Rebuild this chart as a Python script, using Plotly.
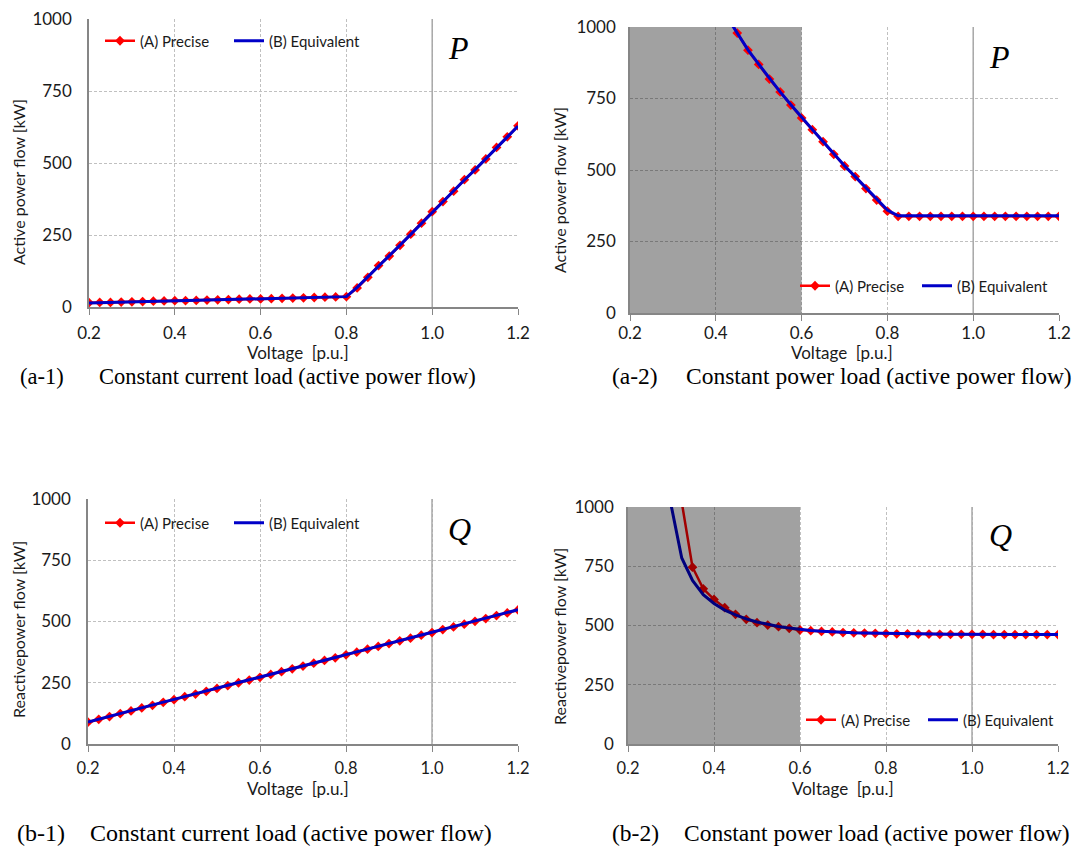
import plotly.graph_objects as go

W, H = 1073, 847

# ---------------- data ----------------
voltage = [0.2, 0.225, 0.25, 0.275, 0.3, 0.325, 0.35, 0.375, 0.4, 0.425, 0.45, 0.475,
           0.5, 0.525, 0.55, 0.575, 0.6, 0.625, 0.65, 0.675, 0.7, 0.725, 0.75, 0.775,
           0.8, 0.825, 0.85, 0.875, 0.9, 0.925, 0.95, 0.975, 1.0, 1.025, 1.05, 1.075,
           1.1, 1.125, 1.15, 1.175, 1.2]

# (a-1) constant current load, active power
p_cc_precise = [15, 16, 16, 17, 18, 19, 20, 21, 22, 22, 23, 24, 25, 26, 27, 28, 28, 29, 30, 31,
                32, 33, 34, 35, 36, 66, 103, 144, 177, 214, 253, 291, 331, 366, 402, 442,
                476, 514, 554, 591, 629]
p_cc_equiv = [14, 15, 16, 17, 18, 19, 20, 21, 21, 22, 23, 24, 25, 26, 27, 27, 28, 29, 30, 31,
              32, 33, 34, 35, 36, 68, 104, 143, 178, 215, 252, 290, 330, 366, 403, 441,
              477, 514, 553, 590, 628]

# (a-2) constant power load, active power
p_cp_precise = [None, None, None, None, None, None, None, None, None, 1040, 979, 919,
                869, 818, 773, 727, 682, 641, 599, 555, 514, 477, 435, 395,
                356, 338, 338, 338, 338, 338, 338, 338, 338, 338, 338, 338,
                338, 338, 338, 338, 338]
p_cp_equiv = [None, None, None, None, None, None, None, None, None, 1038, 978, 920,
              870, 820, 773, 728, 683, 642, 600, 557, 515, 477, 437, 397,
              360, 340, 340, 340, 340, 340, 340, 340, 340, 340, 340, 340,
              340, 340, 340, 340, 340]

# (b-1) constant current load, reactive power
q_cc_precise = [89, 101, 112, 124, 135, 147, 158, 170, 181, 193, 204, 215, 227, 238, 250, 261,
                272, 284, 295, 307, 318, 330, 341, 352, 364, 375, 387, 398, 410, 421, 432,
                444, 455, 467, 478, 489, 501, 512, 524, 535, 547]
q_cc_equiv = [90, 102, 113, 125, 136, 148, 159, 171, 182, 194, 205, 216, 228, 239, 251, 262,
              273, 285, 296, 308, 319, 331, 342, 353, 365, 376, 388, 399, 411, 422, 433,
              445, 456, 468, 479, 490, 502, 513, 525, 536, 548]

# (b-2) constant power load, reactive power
q_cp_precise = [None, None, None, None, None, 1020, 746, 655, 610, 575, 547, 526,
                512, 502, 495, 488, 481, 478, 475, 473, 470, 469, 468, 467,
                466, 465, 465, 464, 464, 463, 463, 463, 463, 463, 462, 462,
                462, 462, 462, 462, 462]
q_cp_equiv = [None, None, None, None, 1010, 785, 690, 630, 593, 565, 545, 528,
              515, 505, 496, 489, 483, 479, 476, 473, 471, 469, 468, 467,
              466, 465, 465, 464, 464, 463, 463, 463, 463, 463, 462, 462,
              462, 462, 462, 462, 462]

x_ticks = [0.2, 0.4, 0.6, 0.8, 1.0, 1.2]
x_tick_labels = ["0.2", "0.4", "0.6", "0.8", "1.0", "1.2"]
y_ticks = [0, 250, 500, 750, 1000]
y_tick_labels = ["0", "250", "500", "750", "1000"]

series_names = ["(A) Precise", "(B) Equivalent"]
x_title = "Voltage  [p.u.]"
y_titles = ["Active power flow [kW]", "Active power flow [kW]",
            "Reactivepower flow [kW]", "Reactivepower flow [kW]"]
corner_labels = ["P", "P", "Q", "Q"]
caption_ids = ["(a-1)", "(a-2)", "(b-1)", "(b-2)"]
caption_texts = ["Constant current load (active power flow)",
                 "Constant power load (active power flow)",
                 "Constant current load (active power flow)",
                 "Constant power load (active power flow)"]

# ---------------- layout helpers ----------------
def px(x):
    return x / W


def py(y):
    return 1 - y / H


# plot boxes in pixels: (left, right, top, bottom)
boxes = [(89, 518, 19, 307), (630, 1059, 27, 313), (88, 518, 499, 744), (628, 1058, 507, 744)]

RED = "#ff0000"
BLUE = "#0000c8"
GRID = "#c0c0c0"
AXIS = "#868686"
TXT = "#1a1a1a"

fig = go.Figure()

data_pairs = [(p_cc_precise, p_cc_equiv), (p_cp_precise, p_cp_equiv),
              (q_cc_precise, q_cc_equiv), (q_cp_precise, q_cp_equiv)]

# one legend per entry so each item can sit exactly where the reference puts it
legend_pos = [((100, 41), (229, 41)), ((795, 286), (917, 286)),
              ((100, 523), (229, 523)), ((801, 720), (923, 720))]

layout = dict(
    width=W, height=H,
    margin=dict(l=0, r=0, t=0, b=0, autoexpand=False),
    paper_bgcolor="white", plot_bgcolor="white",
    showlegend=True,
)

leg_idx = 0
for i, (prec, equiv) in enumerate(data_pairs):
    sfx = "" if i == 0 else str(i + 1)
    legs = []
    for k in range(2):
        leg_idx += 1
        name = "legend" if leg_idx == 1 else "legend" + str(leg_idx)
        legs.append(name)
        lx, ly = legend_pos[i][k]
        layout[name] = dict(
            x=px(lx), y=py(ly), xanchor="left", yanchor="middle",
            orientation="h", bgcolor="rgba(0,0,0,0)", borderwidth=0,
            font=dict(family="Lato", size=15, color=TXT), itemwidth=30,
        )
    fig.add_trace(go.Scatter(
        x=voltage, y=prec, mode="lines+markers", name=series_names[0],
        line=dict(color=RED, width=2.5),
        marker=dict(symbol="diamond", size=7.5, color=RED),
        xaxis="x" + sfx, yaxis="y" + sfx, legend=legs[0], connectgaps=False))
    fig.add_trace(go.Scatter(
        x=voltage, y=equiv, mode="lines", name=series_names[1],
        line=dict(color=BLUE, width=3),
        xaxis="x" + sfx, yaxis="y" + sfx, legend=legs[1], connectgaps=False))

x_standoff = [4, -2, 2, 2]
y_standoff = [12, 9, 12, 9]

for i, (l, r, t, b) in enumerate(boxes):
    sfx = "" if i == 0 else str(i + 1)
    layout["xaxis" + sfx] = dict(
        domain=[px(l), px(r)], anchor="y" + sfx, range=[0.2, 1.2],
        tickvals=x_ticks, ticktext=x_tick_labels,
        tickfont=dict(family="Lato", size=17 if i < 2 else 16.5, color=TXT),
        ticks="outside", ticklen=6, tickcolor=AXIS, tickwidth=1.2,
        ticklabelstandoff=x_standoff[i],
        showline=True, linecolor=AXIS, linewidth=1.5,
        showgrid=True, gridcolor=GRID, gridwidth=1, griddash="3px,2px",
        zeroline=False, fixedrange=True, automargin=False,
    )
    layout["yaxis" + sfx] = dict(
        domain=[py(b), py(t)], anchor="x" + sfx, range=[0, 1000],
        tickvals=y_ticks, ticktext=y_tick_labels,
        tickfont=dict(family="Lato", size=17, color=TXT),
        ticks="", ticklabelstandoff=y_standoff[i],
        showline=True, linecolor=AXIS, linewidth=1.5,
        showgrid=True, gridcolor=GRID, gridwidth=1, griddash="3px,2px",
        zeroline=False, fixedrange=True, automargin=False,
    )

fig.update_layout(**layout)

# shaded regions (unstable voltage region)
fig.add_shape(type="rect", xref="x2", yref="y2", x0=0.2, x1=0.6, y0=0, y1=1000,
              fillcolor="rgba(0,0,0,0.37)", line=dict(width=0), layer="between")
fig.add_shape(type="rect", xref="x4", yref="y4", x0=0.2, x1=0.6, y0=0, y1=1000,
              fillcolor="rgba(0,0,0,0.37)", line=dict(width=0), layer="above")

# reference line at nominal voltage
for i in range(4):
    sfx = "" if i == 0 else str(i + 1)
    fig.add_shape(type="line", xref="x" + sfx, yref="y" + sfx, x0=1.0, x1=1.0, y0=0, y1=1000,
                  line=dict(color="#a8a8a8", width=1.5), layer="between")

# axis titles
x_title_pos = [(298, 352), (842, 352), (298, 788), (843, 788)]
y_title_pos = [(19, 182), (559, 190), (18, 630), (559, 637)]
for (tx, ty) in x_title_pos:
    fig.add_annotation(x=px(tx), y=py(ty), xref="paper", yref="paper", text=x_title,
                       showarrow=False, xanchor="center", yanchor="middle",
                       font=dict(family="Lato", size=17, color=TXT))
for (tx, ty), ttl in zip(y_title_pos, y_titles):
    fig.add_annotation(x=px(tx), y=py(ty), xref="paper", yref="paper", text=ttl,
                       showarrow=False, xanchor="center", yanchor="middle", textangle=-90,
                       font=dict(family="Lato", size=16, color=TXT))

# corner labels P / Q
corner_pos = [(458, 48), (999, 57), (459, 529), (1000, 535)]
for (cx, cy), lab in zip(corner_pos, corner_labels):
    fig.add_annotation(x=px(cx), y=py(cy), xref="paper", yref="paper",
                       text="<i>" + lab + "</i>", showarrow=False,
                       xanchor="center", yanchor="middle",
                       font=dict(family="Liberation Serif", size=32, color="black"))

# captions
cap_pos = [((18, 97), 376), ((610, 684), 376), ((15, 88), 833), ((610, 682), 833)]
cap_size = [22.5, 23.5, 24, 23.5]
for ((x_id, x_txt), cy), cid, ctxt, fs in zip(cap_pos, caption_ids, caption_texts, cap_size):
    f = dict(family="Liberation Serif", size=fs, color="black")
    fig.add_annotation(x=px(x_id), y=py(cy), xref="paper", yref="paper", text=cid,
                       showarrow=False, xanchor="left", yanchor="middle", font=f)
    fig.add_annotation(x=px(x_txt), y=py(cy), xref="paper", yref="paper", text=ctxt,
                       showarrow=False, xanchor="left", yanchor="middle", font=f)

fig.write_html("out.html")
